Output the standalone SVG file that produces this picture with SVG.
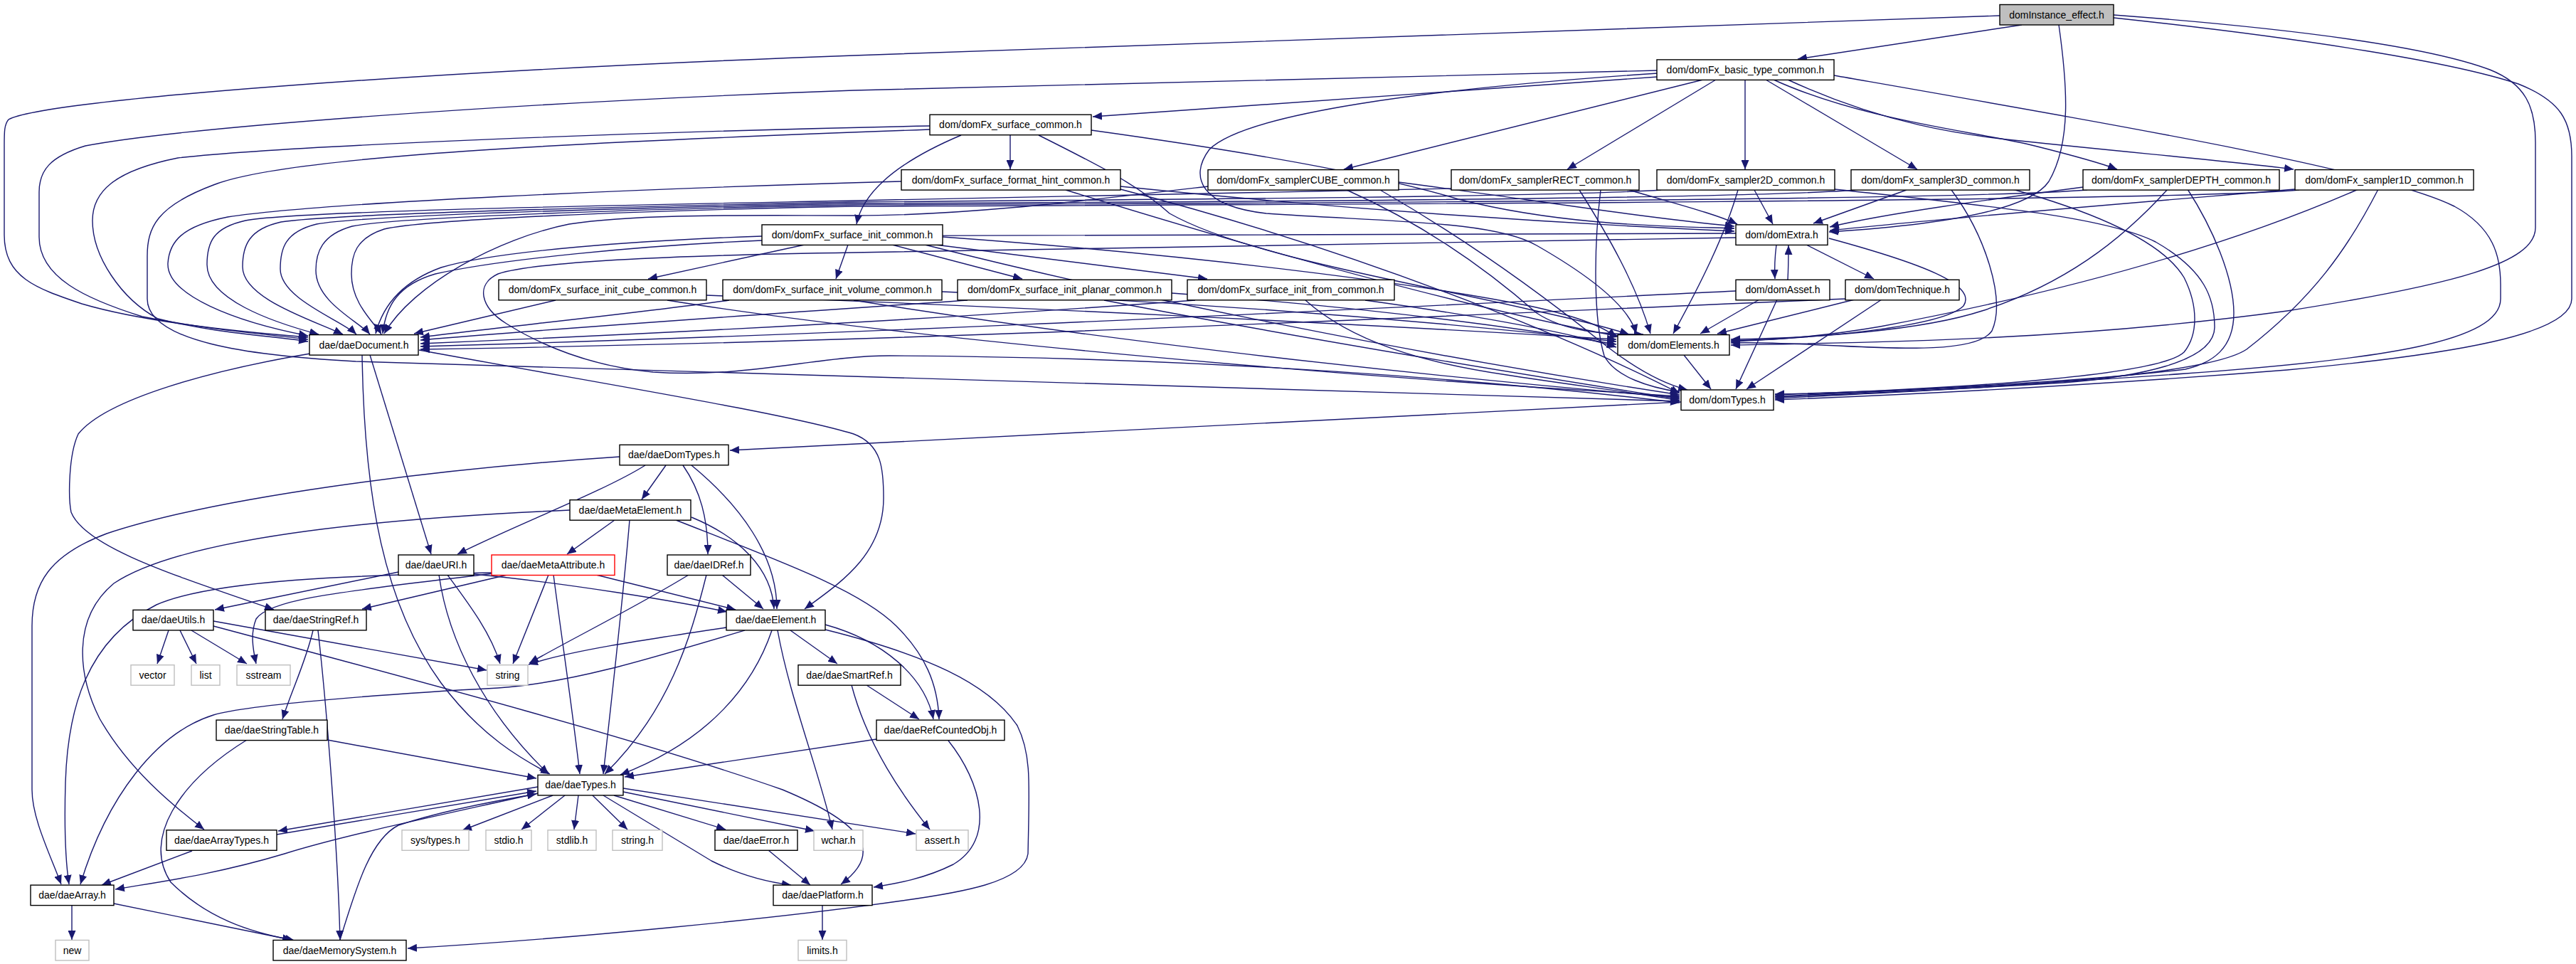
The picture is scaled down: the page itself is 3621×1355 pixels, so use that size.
<svg xmlns="http://www.w3.org/2000/svg" width="3621" height="1355" viewBox="0 0 3621 1355">
<style>
.n rect{fill:#fff;stroke:#000;stroke-width:1.4}
.g rect{fill:#fff;stroke:#bfbfbf;stroke-width:1.4}
.r rect{fill:#fff;stroke:#ff0000;stroke-width:1.4}
.root rect{fill:#bfbfbf;stroke:#000;stroke-width:1.4}
text{font-family:"Liberation Sans",Arial,sans-serif;font-size:14px;text-anchor:middle;fill:#000}
.e path{fill:none;stroke:#191970;stroke-width:1.4;marker-end:url(#a)}
</style>
<defs>
<marker id="a" markerUnits="userSpaceOnUse" markerWidth="14" markerHeight="11" refX="13" refY="5.5" orient="auto"><path d="M0,0 L13,5.5 L0,11 z" fill="#191970"/></marker>
</defs>
<rect width="3621" height="1355" fill="#fff"/>
<g class="e" id="edges">
<!-- instance -->
<path d="M2842,35 L2527,83"/>
<path d="M2811,22 L1200,78 C600,100 60,140 12,168 C6,175 6,185 6,205 L6,330 C6,390 50,405 115,427 C200,452 330,466 433,474"/>
<path d="M2894,35 C2906,120 2912,200 2880,255 C2850,300 2700,318 2571,326"/>
<path d="M2971,21 C3250,42 3420,68 3500,98 C3550,118 3564,150 3564,200 L3564,320 C3564,370 3450,400 3215,437 C2900,480 2600,482 2433,485"/>
<path d="M2971,25 C3250,55 3450,88 3540,118 C3600,142 3615,170 3615,220 L3615,420 C3615,470 3450,498 3215,520 C2900,545 2650,556 2495,562"/>
<!-- basic -->
<path d="M2330,108 L1536,164"/>
<path d="M2330,99 L1200,127 C700,145 250,180 120,205 C70,220 55,240 55,270 L55,333 C55,390 120,420 200,445 C300,465 380,470 433,477"/>
<path d="M2578,106 C3000,180 3350,240 3450,290 C3505,320 3515,360 3515,400 L3515,420 C3515,480 3350,505 3072,525 C2800,545 2600,552 2495,557"/>
<path d="M2394,112 L1889,238"/>
<path d="M2412,112 L2203,238"/>
<path d="M2453,112 L2453,238"/>
<path d="M2482,112 L2695,238"/>
<path d="M2493,112 C2620,170 2780,185 2860,205 C2920,220 2955,230 2976,238"/>
<path d="M2513,112 C2650,175 2760,190 2840,198 C3000,215 3150,228 3224,238"/>
<path d="M2330,103 C2000,125 1750,160 1700,210 C1670,250 1690,290 1780,300 C1950,312 2100,310 2160,345 C2230,385 2290,430 2300,469"/>
<!-- surface_common -->
<path d="M1420,190 L1420,238"/>
<path d="M1351,190 C1280,220 1215,260 1204,315"/>
<path d="M1307,177 C900,185 400,205 250,222 C160,240 130,270 130,310 C130,360 170,420 222,448 C300,468 380,472 433,480"/>
<path d="M1307,182 C800,200 400,220 300,260 C220,290 207,320 207,360 L207,420 C207,480 350,500 500,508 C900,525 1600,540 2361,564"/>
<path d="M1460,190 C1540,230 1600,260 1644,300 C1750,360 2000,400 2150,435 C2220,450 2265,462 2290,470"/>
<path d="M1534,183 C1800,220 1950,250 2050,280 C2200,318 2350,318 2438,321"/>
<!-- format hint -->
<path d="M1267,255 C900,265 450,285 320,305 C255,318 238,340 236,370 C234,415 330,452 433,472"/>
<path d="M1575,262 C1800,285 2100,310 2438,325"/>
<path d="M1498,267 C1750,345 2050,430 2276,473"/>
<path d="M1575,266 C1900,350 2200,470 2361,553"/>
<!-- CUBE -->
<path d="M1698,262 C1500,285 1350,303 1200,303 C1050,303 900,300 800,315 C700,335 580,400 540,469"/>
<path d="M1966,256 C2150,280 2300,305 2438,318"/>
<path d="M1893,267 C1990,310 2080,370 2160,440 C2200,466 2250,470 2310,470"/>
<path d="M1940,267 C2050,330 2150,400 2250,480 C2300,520 2340,540 2372,548"/>
<!-- RECT -->
<path d="M2040,265 C1700,272 1300,280 1200,282 C900,288 420,296 345,310 C300,320 291,340 291,372 C291,420 380,452 448,470"/>
<path d="M2290,267 C2350,285 2410,300 2442,315"/>
<path d="M2220,267 C2260,330 2300,400 2320,469"/>
<path d="M2250,267 C2240,350 2240,450 2255,500 C2270,530 2320,545 2361,551"/>
<!-- 2D -->
<path d="M2335,267 C2200,276 1700,280 1200,284 C900,290 470,300 395,312 C350,322 341,345 341,375 C341,420 440,450 482,470"/>
<path d="M2466,267 L2492,315"/>
<path d="M2443,267 C2425,330 2390,400 2352,469"/>
<path d="M2579,266 C2800,290 2960,305 3030,340 C3100,380 3113,420 3113,460 C3113,510 3000,530 2900,538 C2700,550 2550,556 2495,558"/>
<!-- 3D -->
<path d="M2608,267 C2450,280 1700,284 1200,286 C900,292 520,302 445,315 C400,326 394,350 394,378 C394,420 480,450 501,470"/>
<path d="M2680,267 L2549,314"/>
<path d="M2743,267 C2790,330 2820,420 2800,465 C2770,510 2560,478 2433,482"/>
<path d="M2829,266 C2950,300 3040,340 3070,390 C3090,430 3090,470 3070,495 C3040,525 2800,545 2495,555"/>
<!-- DEPTH -->
<path d="M2934,267 C2750,282 1700,286 1200,288 C900,294 560,305 495,318 C452,330 444,355 444,380 C444,425 505,452 520,470"/>
<path d="M2928,263 C2800,280 2650,300 2572,319"/>
<path d="M3047,266 C2980,340 2900,400 2786,437 C2700,465 2550,475 2433,477"/>
<path d="M3075,266 C3110,320 3140,390 3140,440 C3140,490 3110,510 3072,519 C2900,540 2600,552 2495,554"/>
<!-- 1D -->
<path d="M3232,267 C3050,284 1700,288 1200,290 C900,296 600,308 540,322 C500,335 494,358 494,385 C494,428 528,455 536,470"/>
<path d="M3226,266 C3000,285 2750,305 2572,324"/>
<path d="M3315,266 C3100,360 2850,420 2643,459 C2550,475 2480,478 2433,480"/>
<path d="M3343,266 C3300,350 3250,420 3158,491 C3100,530 2800,545 2495,560"/>
<!-- surface_init_common -->
<path d="M1071,338 C900,345 700,365 612,385 C560,400 542,430 538,469"/>
<path d="M1131,344 L911,392"/>
<path d="M1192,344 L1175,392"/>
<path d="M1254,344 L1437,392"/>
<path d="M1315,344 L1697,392"/>
<path d="M1325,333 C1700,360 2000,400 2150,430 C2220,445 2255,460 2272,474"/>
<path d="M1300,344 C1600,420 2000,500 2361,555"/>
<!-- init children -->
<path d="M781,422 L582,469"/>
<path d="M993,415 C1400,430 1900,455 2272,477"/>
<path d="M938,422 C1300,480 1900,530 2361,557"/>
<path d="M1025,422 C900,440 700,460 591,474"/>
<path d="M1324,410 C1700,425 2000,450 2272,480"/>
<path d="M1200,422 C1500,470 1900,520 2361,559"/>
<path d="M1360,422 C1100,440 800,460 591,478"/>
<path d="M1647,412 C1900,430 2100,455 2272,484"/>
<path d="M1552,422 C1800,470 2100,520 2361,561"/>
<path d="M1680,422 C1300,450 900,470 591,483"/>
<path d="M1919,422 C2050,440 2200,465 2272,488"/>
<path d="M1835,422 C1900,480 2000,510 2118,527 C2200,540 2300,552 2361,563"/>
<!-- domExtra -->
<path d="M2497,344 C2495,360 2494,375 2495,392"/>
<path d="M2539,344 L2634,392"/>
<path d="M2440,328 L1071,332 C900,338 700,352 620,376 C565,396 538,430 528,469"/>
<path d="M2571,335 C2700,370 2780,400 2760,430 C2730,460 2550,476 2433,479"/>
<path d="M2440,334 L1200,355 C1000,358 760,365 700,385 C668,400 675,432 712,455 C760,485 830,515 918,523 C1050,532 1150,500 1250,500 C1700,502 2100,535 2361,566"/>
<!-- domAsset -->
<path d="M2513,393 C2514,375 2514,360 2514,345"/>
<path d="M2440,409 C1800,440 1200,470 591,487"/>
<path d="M2473,421 L2390,469"/>
<path d="M2498,421 L2440,547"/>
<!-- domTechnique -->
<path d="M2595,420 C2000,445 1300,480 591,491"/>
<path d="M2607,421 L2414,469"/>
<path d="M2645,421 L2455,547"/>
<!-- domElements / domTypes -->
<path d="M2367,499 L2405,547"/>
<path d="M2363,565 L1026,633"/>
<!-- daeDocument -->
<path d="M509,499 C512,700 540,850 620,960 C680,1040 740,1070 773,1088"/>
<path d="M520,499 L606,779"/>
<path d="M589,492 C850,540 1100,580 1200,610 C1240,625 1242,660 1242,700 C1242,780 1180,820 1131,856"/>
<path d="M436,497 C300,520 150,560 110,610 C96,640 96,700 100,720 C120,770 250,810 385,857"/>
<!-- daeDomTypes -->
<path d="M871,642 C600,660 300,700 150,750 C70,780 45,820 45,880 L45,1110 C45,1150 70,1200 86,1243"/>
<path d="M907,654 C850,690 720,740 643,779"/>
<path d="M936,654 L902,702"/>
<path d="M960,654 C985,690 995,730 995,779"/>
<path d="M972,654 C1040,710 1092,780 1092,856"/>
<!-- daeMetaElement -->
<path d="M801,717 C500,730 250,760 160,820 C100,870 110,950 140,1010 C180,1080 240,1130 287,1166"/>
<path d="M864,731 L797,779"/>
<path d="M885,731 C875,850 860,980 848,1088"/>
<path d="M972,727 C1040,755 1085,800 1088,856"/>
<path d="M950,731 C1100,790 1210,830 1260,880 C1300,920 1318,960 1320,1011"/>
<!-- daeMetaAttribute -->
<path d="M771,808 L721,933"/>
<path d="M778,808 C790,900 805,1000 815,1088"/>
<path d="M838,808 L1034,857"/>
<path d="M713,808 L509,856"/>
<path d="M693,806 C500,830 380,840 360,870 C352,890 355,910 360,933"/>
<path d="M691,805 C500,808 300,815 220,850 C120,900 95,1000 92,1100 C90,1170 92,1210 97,1243"/>
<!-- daeURI -->
<path d="M629,808 C660,850 690,890 703,933"/>
<path d="M617,808 C630,900 680,1000 771,1088"/>
<path d="M666,807 C800,820 950,845 1022,860"/>
<path d="M560,804 L302,857"/>
<!-- daeIDRef -->
<path d="M993,808 C970,900 940,1000 850,1088"/>
<path d="M968,808 C900,850 800,900 744,932"/>
<path d="M1015,808 L1073,856"/>
<!-- daeUtils -->
<path d="M237,886 L221,933"/>
<path d="M253,886 L276,933"/>
<path d="M269,886 L347,933"/>
<path d="M300,873 L684,942"/>
<path d="M300,880 C600,960 900,1040 1100,1110 C1220,1160 1240,1200 1182,1243"/>
<!-- daeStringRef -->
<path d="M440,886 C430,930 410,970 397,1011"/>
<path d="M447,886 C460,1000 475,1200 478,1321"/>
<!-- daeElement -->
<path d="M1021,882 C900,900 800,915 743,934"/>
<path d="M1085,886 C1060,960 1000,1040 872,1089"/>
<path d="M1093,886 C1110,980 1150,1080 1170,1166"/>
<path d="M1111,886 L1177,933"/>
<path d="M1160,878 C1240,900 1300,950 1312,1011"/>
<path d="M1160,885 C1300,920 1390,960 1430,1020 C1450,1060 1447,1100 1445,1200 C1440,1240 1350,1255 1261,1267 C1100,1290 800,1320 573,1333"/>
<path d="M1047,886 C900,930 800,960 700,967 C550,975 350,990 300,1005 C220,1030 150,1120 113,1243"/>
<!-- daeSmartRef / StringTable / RefCountedObj -->
<path d="M1197,963 C1220,1050 1270,1120 1307,1166"/>
<path d="M1218,963 L1292,1011"/>
<path d="M347,1040 C250,1100 200,1180 240,1240 C290,1290 350,1310 410,1321"/>
<path d="M460,1040 L754,1094"/>
<path d="M1232,1039 L878,1092"/>
<path d="M1333,1041 C1380,1100 1400,1180 1340,1215 C1300,1235 1260,1242 1228,1247"/>
<!-- daeTypes -->
<path d="M777,1118 L650,1167"/>
<path d="M794,1118 L733,1166"/>
<path d="M813,1118 L807,1166"/>
<path d="M833,1118 L882,1166"/>
<path d="M863,1118 L1020,1166"/>
<path d="M876,1113 L1145,1168"/>
<path d="M876,1108 L1287,1172"/>
<path d="M848,1118 C900,1150 950,1180 1000,1210 C1040,1230 1080,1240 1112,1244"/>
<path d="M756,1106 L391,1168"/>
<path d="M389,1173 L754,1112"/>
<path d="M756,1115 C600,1150 480,1175 400,1200 C300,1230 220,1240 162,1250"/>
<path d="M478,1321 C500,1250 520,1180 560,1160 C620,1140 700,1125 754,1116"/>
<!-- bottom -->
<path d="M270,1196 L143,1244"/>
<path d="M101,1273 L101,1321"/>
<path d="M160,1270 L414,1322"/>
<path d="M1080,1195 L1139,1244"/>
<path d="M1156,1273 L1156,1321"/>
</g>
<g id="n_inst" class="root"><rect x="2811" y="6.5" width="160" height="28.5"/><text x="2891" y="25.5">domInstance_effect.h</text></g>
<g id="n_basic" class="n"><rect x="2329" y="83.9" width="249" height="28.5"/><text x="2453.5" y="102.9">dom/domFx_basic_type_common.h</text></g>
<g id="n_surf" class="n"><rect x="1307" y="161.2" width="227" height="28.5"/><text x="1420.5" y="180.2">dom/domFx_surface_common.h</text></g>
<g id="n_fmt" class="n"><rect x="1267" y="238.6" width="308" height="28.5"/><text x="1421" y="257.6">dom/domFx_surface_format_hint_common.h</text></g>
<g id="n_cube_s" class="n"><rect x="1698" y="238.6" width="268" height="28.5"/><text x="1832" y="257.6">dom/domFx_samplerCUBE_common.h</text></g>
<g id="n_rect" class="n"><rect x="2040" y="238.6" width="264" height="28.5"/><text x="2172" y="257.6">dom/domFx_samplerRECT_common.h</text></g>
<g id="n_s2d" class="n"><rect x="2329" y="238.6" width="250" height="28.5"/><text x="2454" y="257.6">dom/domFx_sampler2D_common.h</text></g>
<g id="n_s3d" class="n"><rect x="2602" y="238.6" width="251" height="28.5"/><text x="2727.5" y="257.6">dom/domFx_sampler3D_common.h</text></g>
<g id="n_depth" class="n"><rect x="2928" y="238.6" width="276" height="28.5"/><text x="3066" y="257.6">dom/domFx_samplerDEPTH_common.h</text></g>
<g id="n_s1d" class="n"><rect x="3226" y="238.6" width="251" height="28.5"/><text x="3351.5" y="257.6">dom/domFx_sampler1D_common.h</text></g>
<g id="n_init" class="n"><rect x="1071" y="315.9" width="254" height="28.5"/><text x="1198" y="334.9">dom/domFx_surface_init_common.h</text></g>
<g id="n_extra" class="n"><rect x="2440" y="315.9" width="129" height="28.5"/><text x="2504.5" y="334.9">dom/domExtra.h</text></g>
<g id="n_icube" class="n"><rect x="701" y="393.3" width="292" height="28.5"/><text x="847" y="412.3">dom/domFx_surface_init_cube_common.h</text></g>
<g id="n_ivol" class="n"><rect x="1016" y="393.3" width="308" height="28.5"/><text x="1170" y="412.3">dom/domFx_surface_init_volume_common.h</text></g>
<g id="n_iplan" class="n"><rect x="1346" y="393.3" width="301" height="28.5"/><text x="1496.5" y="412.3">dom/domFx_surface_init_planar_common.h</text></g>
<g id="n_ifrom" class="n"><rect x="1669" y="393.3" width="291" height="28.5"/><text x="1814.5" y="412.3">dom/domFx_surface_init_from_common.h</text></g>
<g id="n_asset" class="n"><rect x="2440" y="393.3" width="132" height="28.5"/><text x="2506" y="412.3">dom/domAsset.h</text></g>
<g id="n_tech" class="n"><rect x="2594" y="393.3" width="160" height="28.5"/><text x="2674" y="412.3">dom/domTechnique.h</text></g>
<g id="n_doc" class="n"><rect x="435" y="470.6" width="153" height="28.5"/><text x="511.5" y="489.6">dae/daeDocument.h</text></g>
<g id="n_elem" class="n"><rect x="2274" y="470.6" width="157" height="28.5"/><text x="2352.5" y="489.6">dom/domElements.h</text></g>
<g id="n_dtypes" class="n"><rect x="2363" y="548" width="130" height="28.5"/><text x="2428" y="567">dom/domTypes.h</text></g>
<g id="n_ddt" class="n"><rect x="871" y="625.3" width="153" height="28.5"/><text x="947.5" y="644.3">dae/daeDomTypes.h</text></g>
<g id="n_meta" class="n"><rect x="801" y="702.7" width="170" height="28.5"/><text x="886" y="721.7">dae/daeMetaElement.h</text></g>
<g id="n_uri" class="n"><rect x="560" y="780" width="106" height="28.5"/><text x="613" y="799">dae/daeURI.h</text></g>
<g id="n_mattr" class="r"><rect x="691" y="780" width="173" height="28.5"/><text x="777.5" y="799">dae/daeMetaAttribute.h</text></g>
<g id="n_idref" class="n"><rect x="938" y="780" width="117" height="28.5"/><text x="996.5" y="799">dae/daeIDRef.h</text></g>
<g id="n_utils" class="n"><rect x="187" y="857.4" width="113" height="28.5"/><text x="243.5" y="876.4">dae/daeUtils.h</text></g>
<g id="n_sref" class="n"><rect x="373" y="857.4" width="142" height="28.5"/><text x="444" y="876.4">dae/daeStringRef.h</text></g>
<g id="n_delem" class="n"><rect x="1021" y="857.4" width="139" height="28.5"/><text x="1090.5" y="876.4">dae/daeElement.h</text></g>
<g id="n_vector" class="g"><rect x="184" y="934.7" width="61" height="28.5"/><text x="214.5" y="953.7">vector</text></g>
<g id="n_list" class="g"><rect x="269" y="934.7" width="40" height="28.5"/><text x="289" y="953.7">list</text></g>
<g id="n_sstream" class="g"><rect x="333" y="934.7" width="75" height="28.5"/><text x="370.5" y="953.7">sstream</text></g>
<g id="n_string" class="g"><rect x="685" y="934.7" width="57" height="28.5"/><text x="713.5" y="953.7">string</text></g>
<g id="n_smart" class="n"><rect x="1122" y="934.7" width="144" height="28.5"/><text x="1194" y="953.7">dae/daeSmartRef.h</text></g>
<g id="n_stable" class="n"><rect x="304" y="1012.1" width="156" height="28.5"/><text x="382" y="1031.1">dae/daeStringTable.h</text></g>
<g id="n_rco" class="n"><rect x="1232" y="1012.1" width="180" height="28.5"/><text x="1322" y="1031.1">dae/daeRefCountedObj.h</text></g>
<g id="n_dtyp" class="n"><rect x="756" y="1089.4" width="120" height="28.5"/><text x="816" y="1108.4">dae/daeTypes.h</text></g>
<g id="n_atypes" class="n"><rect x="234" y="1166.8" width="155" height="28.5"/><text x="311.5" y="1185.8">dae/daeArrayTypes.h</text></g>
<g id="n_systypes" class="g"><rect x="565" y="1166.8" width="94" height="28.5"/><text x="612" y="1185.8">sys/types.h</text></g>
<g id="n_stdio" class="g"><rect x="683" y="1166.8" width="64" height="28.5"/><text x="715" y="1185.8">stdio.h</text></g>
<g id="n_stdlib" class="g"><rect x="770" y="1166.8" width="68" height="28.5"/><text x="804" y="1185.8">stdlib.h</text></g>
<g id="n_stringh" class="g"><rect x="861" y="1166.8" width="70" height="28.5"/><text x="896" y="1185.8">string.h</text></g>
<g id="n_err" class="n"><rect x="1005" y="1166.8" width="116" height="28.5"/><text x="1063" y="1185.8">dae/daeError.h</text></g>
<g id="n_wchar" class="g"><rect x="1144" y="1166.8" width="69" height="28.5"/><text x="1178.5" y="1185.8">wchar.h</text></g>
<g id="n_assert" class="g"><rect x="1288" y="1166.8" width="73" height="28.5"/><text x="1324.5" y="1185.8">assert.h</text></g>
<g id="n_arr" class="n"><rect x="43" y="1244.1" width="117" height="28.5"/><text x="101.5" y="1263.1">dae/daeArray.h</text></g>
<g id="n_plat" class="n"><rect x="1087" y="1244.1" width="139" height="28.5"/><text x="1156.5" y="1263.1">dae/daePlatform.h</text></g>
<g id="n_new" class="g"><rect x="78" y="1321.5" width="47" height="28.5"/><text x="101.5" y="1340.5">new</text></g>
<g id="n_limits" class="g"><rect x="1122" y="1321.5" width="68" height="28.5"/><text x="1156" y="1340.5">limits.h</text></g>
<g id="n_mem" class="n"><rect x="384" y="1321.5" width="187" height="28.5"/><text x="477.5" y="1340.5">dae/daeMemorySystem.h</text></g>
</svg>
